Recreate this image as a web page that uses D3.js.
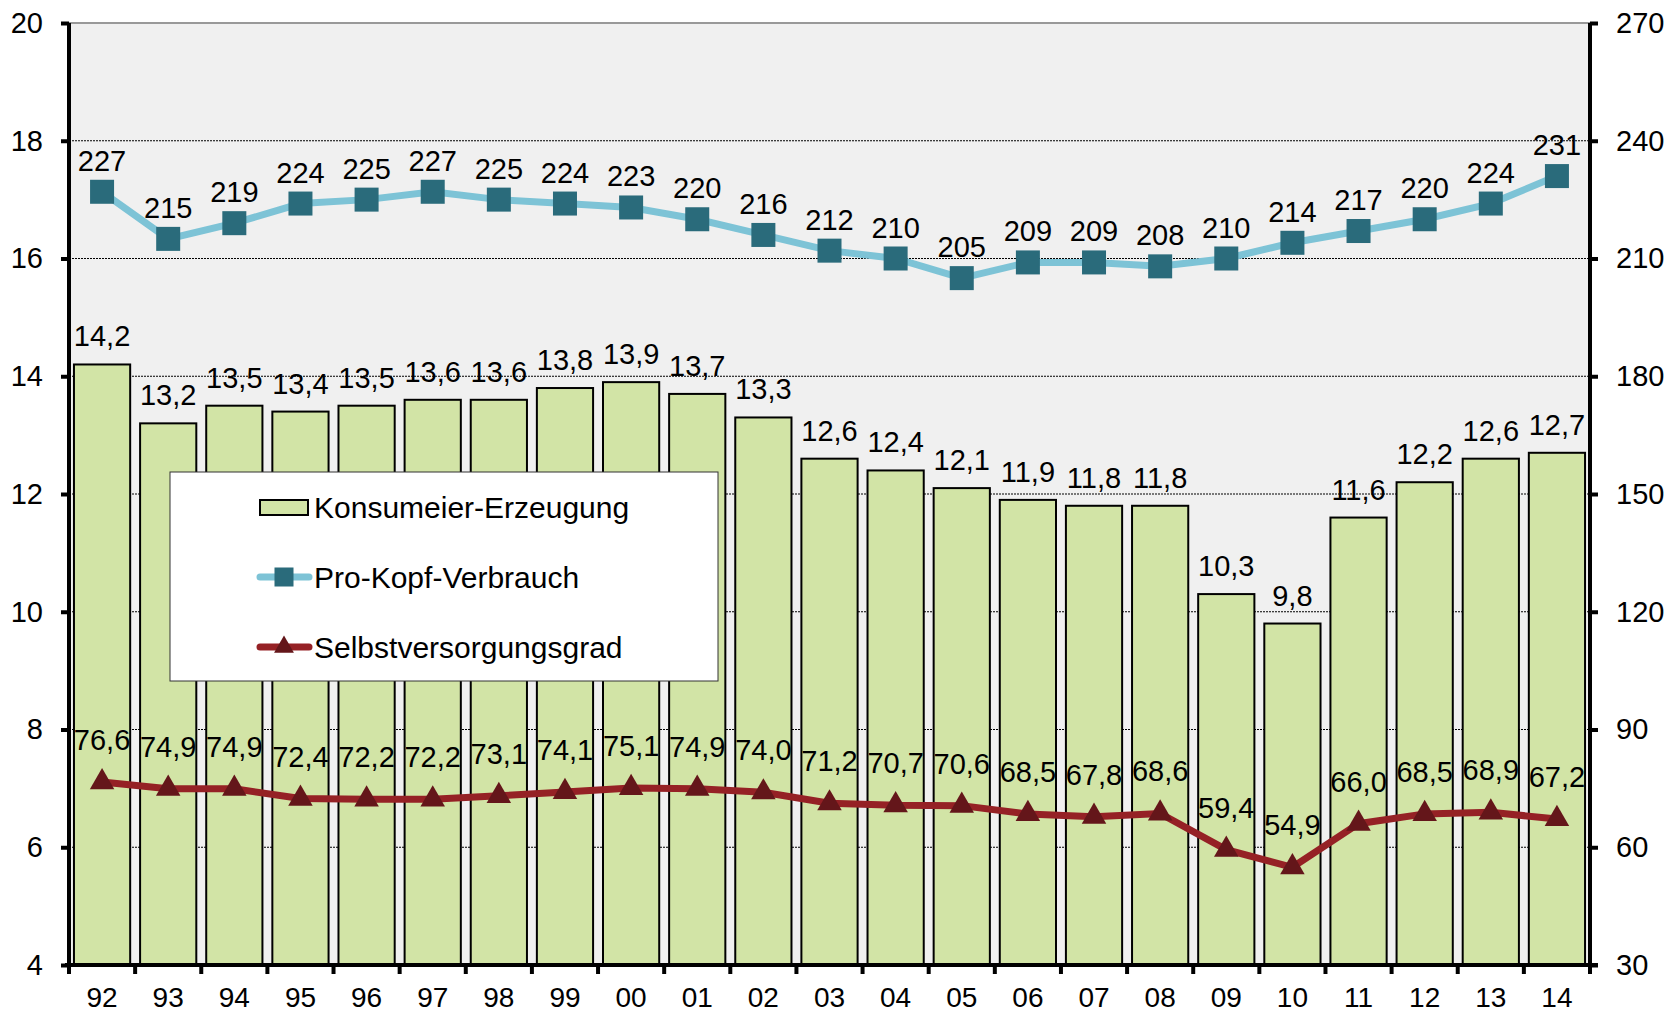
<!DOCTYPE html>
<html>
<head>
<meta charset="utf-8">
<script src="https://cdn.jsdelivr.net/npm/d3@7"></script>
<style>
  body { margin: 0; background: #fff; }
  text { font-family: "Liberation Sans", Arial, sans-serif; fill: #000; }
</style>
</head>
<body>
<div id="chart"></div>
<script>
var years = ['92','93','94','95','96','97','98','99','00','01','02','03','04','05','06','07','08','09','10','11','12','13','14'];
var erzeugung = [14.2,13.2,13.5,13.4,13.5,13.6,13.6,13.8,13.9,13.7,13.3,12.6,12.4,12.1,11.9,11.8,11.8,10.3,9.8,11.6,12.2,12.6,12.7];
var verbrauch = [227,215,219,224,225,227,225,224,223,220,216,212,210,205,209,209,208,210,214,217,220,224,231];
var selbst = [76.6,74.9,74.9,72.4,72.2,72.2,73.1,74.1,75.1,74.9,74.0,71.2,70.7,70.6,68.5,67.8,68.6,59.4,54.9,66.0,68.5,68.9,67.2];
var leftTicks = [4,6,8,10,12,14,16,18,20];
var rightTicks = [30,60,90,120,150,180,210,240,270];
var legendNames = ['Konsumeier-Erzeugung','Pro-Kopf-Verbrauch','Selbstversorgungsgrad'];

var width = 1668, height = 1013;
var mLeft = 69, mRight = 1590, mTop = 23, mBottom = 965;
var labelSize = 29, axisSize = 29, legendSize = 30;

var svg = d3.select('#chart').append('svg')
  .attr('width', width)
  .attr('height', height);

var x = d3.scaleBand().domain(years).range([mLeft, mRight]).paddingInner(0.15).paddingOuter(0.075);
var xb = d3.scaleBand().domain(years).range([mLeft, mRight]);
var yL = d3.scaleLinear().domain([4, 20]).range([mBottom, mTop]);
var yR = d3.scaleLinear().domain([30, 270]).range([mBottom, mTop]);
var fmt = function(v) { return d3.format('.1f')(v).replace('.', ','); };

// plot background
svg.append('rect')
  .attr('x', mLeft).attr('y', mTop)
  .attr('width', mRight - mLeft).attr('height', mBottom - mTop)
  .attr('fill', '#f0f0f0');

// gridlines
svg.append('g').selectAll('line')
  .data(leftTicks.filter(function(t) { return t > 4 && t < 20; }))
  .enter().append('line')
  .attr('x1', mLeft).attr('x2', mRight)
  .attr('y1', function(d) { return yL(d); })
  .attr('y2', function(d) { return yL(d); })
  .attr('stroke', '#000')
  .attr('stroke-width', 1)
  .attr('stroke-dasharray', '2,1');
svg.append('line')
  .attr('x1', mLeft).attr('x2', mRight)
  .attr('y1', mTop).attr('y2', mTop)
  .attr('stroke', '#999').attr('stroke-width', 2);

// bars
svg.append('g').selectAll('rect')
  .data(erzeugung)
  .enter().append('rect')
  .attr('x', function(d, i) { return x(years[i]); })
  .attr('y', function(d) { return yL(d); })
  .attr('width', x.bandwidth())
  .attr('height', function(d) { return mBottom - yL(d); })
  .attr('fill', '#d2e4a6')
  .attr('stroke', '#000')
  .attr('stroke-width', 2);

svg.append('g').selectAll('text')
  .data(erzeugung)
  .enter().append('text')
  .attr('x', function(d, i) { return x(years[i]) + x.bandwidth() / 2; })
  .attr('y', function(d) { return yL(d) - 18; })
  .attr('text-anchor', 'middle')
  .attr('font-size', labelSize)
  .text(function(d) { return fmt(d); });

var cx = function(d, i) { return x(years[i]) + x.bandwidth() / 2; };

// Pro-Kopf-Verbrauch line
var lineV = d3.line()
  .x(function(d, i) { return cx(d, i); })
  .y(function(d) { return yR(d); });
svg.append('path')
  .datum(verbrauch)
  .attr('d', lineV)
  .attr('fill', 'none')
  .attr('stroke', '#7dc3d6')
  .attr('stroke-width', 7);
svg.append('g').selectAll('rect')
  .data(verbrauch)
  .enter().append('rect')
  .attr('x', function(d, i) { return cx(d, i) - 12; })
  .attr('y', function(d) { return yR(d) - 12; })
  .attr('width', 24).attr('height', 24)
  .attr('fill', '#2a6b7b');
svg.append('g').selectAll('text')
  .data(verbrauch)
  .enter().append('text')
  .attr('x', function(d, i) { return cx(d, i); })
  .attr('y', function(d) { return yR(d) - 21; })
  .attr('text-anchor', 'middle')
  .attr('font-size', labelSize)
  .text(function(d) { return d; });

// Selbstversorgungsgrad line
var lineS = d3.line()
  .x(function(d, i) { return cx(d, i); })
  .y(function(d) { return yR(d); });
svg.append('path')
  .datum(selbst)
  .attr('d', lineS)
  .attr('fill', 'none')
  .attr('stroke', '#952125')
  .attr('stroke-width', 7);
var tri = d3.symbol().type(d3.symbolTriangle).size(260);
svg.append('g').selectAll('path')
  .data(selbst)
  .enter().append('path')
  .attr('d', tri)
  .attr('transform', function(d, i) { return 'translate(' + cx(d, i) + ',' + yR(d) + ')'; })
  .attr('fill', '#64161a');
svg.append('g').selectAll('text')
  .data(selbst)
  .enter().append('text')
  .attr('x', function(d, i) { return cx(d, i); })
  .attr('y', function(d) { return yR(d) - 32; })
  .attr('text-anchor', 'middle')
  .attr('font-size', labelSize)
  .text(function(d) { return fmt(d); });

// axes
var axisL = d3.axisLeft(yL).tickValues(leftTicks).tickSize(8).tickPadding(18);
var axisR = d3.axisRight(yR).tickValues(rightTicks).tickSize(8).tickPadding(18);
var axisB = d3.axisBottom(xb).tickSize(0).tickPadding(22);

function styleAxis(g) {
  g.select('.domain').attr('stroke', '#000').attr('stroke-width', 4);
  g.selectAll('.tick line').attr('stroke', '#000').attr('stroke-width', 4);
  g.selectAll('text').attr('font-size', axisSize).attr('font-family', '"Liberation Sans", Arial, sans-serif');
}

svg.append('g').attr('transform', 'translate(' + mLeft + ',0)').call(axisL).call(styleAxis)
  .select('.domain').attr('d', 'M0,' + mTop + 'V' + mBottom);
svg.append('g').attr('transform', 'translate(' + mRight + ',0)').call(axisR).call(styleAxis)
  .select('.domain').attr('d', 'M0,' + mTop + 'V' + mBottom);
var gB = svg.append('g').attr('transform', 'translate(0,' + mBottom + ')').call(axisB).call(styleAxis);
gB.selectAll('.tick text').attr('font-size', 28);
gB.select('.domain').attr('d', 'M' + (mLeft - 4) + ',0H' + (mRight + 8));
// category boundary ticks on x axis
gB.append('g').selectAll('line')
  .data(years.concat(['end']))
  .enter().append('line')
  .attr('x1', function(d, i) { return mLeft + i * xb.step(); })
  .attr('x2', function(d, i) { return mLeft + i * xb.step(); })
  .attr('y1', 0).attr('y2', 9)
  .attr('stroke', '#000').attr('stroke-width', 4);

// legend
var lg = svg.append('g');
lg.append('rect')
  .attr('x', 170).attr('y', 472)
  .attr('width', 548).attr('height', 209)
  .attr('fill', '#fff')
  .attr('stroke', '#333')
  .attr('stroke-width', 1);
var rowY = [507, 577, 647];
lg.append('rect')
  .attr('x', 260).attr('y', rowY[0] - 7)
  .attr('width', 48).attr('height', 15)
  .attr('fill', '#d2e4a6').attr('stroke', '#000').attr('stroke-width', 2);
lg.append('line')
  .attr('x1', 260).attr('x2', 309).attr('y1', rowY[1]).attr('y2', rowY[1])
  .attr('stroke', '#7dc3d6').attr('stroke-width', 7).attr('stroke-linecap', 'round');
lg.append('rect')
  .attr('x', 284 - 9.5).attr('y', rowY[1] - 9.5).attr('width', 19).attr('height', 19)
  .attr('fill', '#2a6b7b');
lg.append('line')
  .attr('x1', 260).attr('x2', 309).attr('y1', rowY[2]).attr('y2', rowY[2])
  .attr('stroke', '#952125').attr('stroke-width', 7).attr('stroke-linecap', 'round');
lg.append('path')
  .attr('d', d3.symbol().type(d3.symbolTriangle).size(170))
  .attr('transform', 'translate(284,' + rowY[2] + ')')
  .attr('fill', '#64161a');
lg.selectAll('text.leg')
  .data(legendNames)
  .enter().append('text')
  .attr('class', 'leg')
  .attr('x', 314)
  .attr('y', function(d, i) { return rowY[i]; })
  .attr('dy', '0.35em')
  .attr('font-size', legendSize)
  .text(function(d) { return d; });
</script>
</body>
</html>
